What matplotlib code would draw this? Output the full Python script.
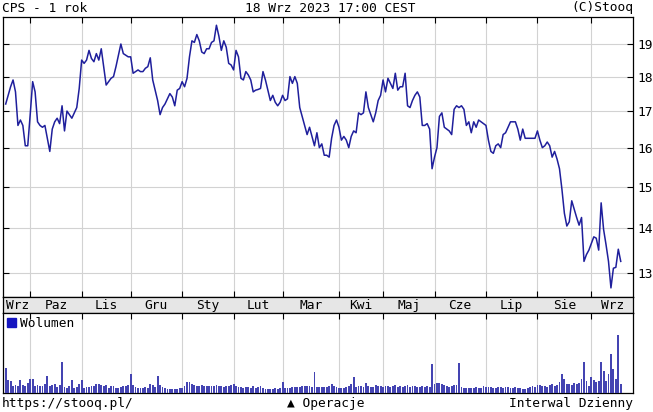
import matplotlib.pyplot as plt
from matplotlib.patches import Patch
from matplotlib.ticker import FixedLocator, NullLocator, FuncFormatter

# kursy zamkniecia CPS, sesje od 19.09.2022 do 18.09.2023
ceny = [17.2, 17.45, 17.7, 17.9, 17.55, 16.6, 16.75, 16.6, 16.05, 16.05,
        16.9, 17.85, 17.55, 16.7, 16.6, 16.55, 16.6, 16.25, 15.9, 16.5,
        16.7, 16.8, 16.65, 17.15, 16.45, 17.0, 16.9, 16.8, 16.95, 17.1,
        17.65, 18.5, 18.4, 18.5, 18.8, 18.55, 18.45, 18.7, 18.5, 18.85,
        18.3, 17.75, 17.85, 17.95, 18.0, 18.3, 18.65, 19.0, 18.7, 18.65,
        18.6, 18.6, 18.1, 18.15, 18.2, 18.15, 18.15, 18.25, 18.3, 18.57,
        17.9, 17.6, 17.3, 16.9, 17.1, 17.2, 17.35, 17.5, 17.4, 17.15,
        17.6, 17.65, 17.85, 17.7, 17.95, 18.6, 19.1, 19.05, 19.3, 19.1,
        18.75, 18.7, 18.85, 18.85, 19.05, 19.1, 19.6, 19.25, 18.8, 19.1,
        18.9, 18.4, 18.35, 18.2, 18.8, 18.6, 17.95, 17.9, 18.15, 18.05,
        17.9, 17.55, 17.6, 17.62, 17.65, 18.15, 17.9, 17.6, 17.3, 17.45,
        17.25, 17.15, 17.25, 17.45, 17.3, 17.35, 18.0, 17.8, 18.0, 17.8,
        17.1, 16.85, 16.6, 16.35, 16.55, 16.3, 16.05, 16.4, 16.0, 16.1,
        15.8, 15.8, 15.75, 16.25, 16.6, 16.75, 16.55, 16.2, 16.3, 16.2,
        16.0, 16.3, 16.45, 16.4, 16.95, 16.9, 16.95, 17.55, 17.1, 16.9,
        16.7, 16.95, 17.3, 17.45, 17.9, 17.55, 17.95, 17.8, 17.65, 18.1,
        17.6, 17.7, 17.7, 18.1, 17.15, 17.1, 17.3, 17.45, 17.55, 17.4,
        16.6, 16.6, 16.65, 16.5, 15.45, 15.75, 16.0, 16.85, 16.95, 16.55,
        16.5, 16.45, 16.35, 17.05, 17.15, 17.1, 17.15, 17.05, 16.6, 16.7,
        16.4, 16.7, 16.55, 16.75, 16.7, 16.65, 16.6, 16.2, 15.9, 15.85,
        16.05, 16.1, 16.0, 16.35, 16.4, 16.55, 16.7, 16.7, 16.7, 16.5,
        16.2, 16.5, 16.25, 16.25, 16.25, 16.25, 16.25, 16.45, 16.2, 16.0,
        16.05, 16.15, 16.05, 15.75, 15.9, 15.7, 15.45, 14.93, 14.35, 14.05,
        14.15, 14.65, 14.45, 14.25, 14.07, 14.25, 13.25, 13.4, 13.5, 13.65,
        13.8, 13.77, 13.5, 14.6, 13.97, 13.62, 13.25, 12.68, 13.1, 13.12,
        13.52, 13.25]

# wolumen (jednostki umowne)
wolumen = [25, 12.7, 12, 7, 8, 7, 12.7, 8, 7, 10,
           14, 14, 7, 8, 7, 7, 9, 17, 7, 8,
           9, 6, 8, 31, 6, 5, 7, 12.7, 5, 6,
           9, 13, 5, 6, 6, 7, 7, 9, 9, 8,
           7, 8, 5, 7, 7, 5, 5, 6, 7, 7,
           8, 19, 8, 6, 5, 5, 5, 6, 5, 9,
           8, 6, 17, 8, 6, 5, 4, 4, 4, 4,
           4, 5, 5, 7, 11, 11, 9, 8, 7, 7,
           8, 7, 7, 7, 7, 7, 8, 7, 7, 6,
           7, 7, 8, 9, 7, 6, 6, 5, 6, 6,
           5, 7, 5, 6, 7, 5, 4, 4, 4, 4,
           5, 4, 5, 11, 5, 5, 5, 6, 6, 6,
           6, 7, 7, 7, 7, 6, 21, 6, 6, 6,
           6, 6, 7, 9, 7, 6, 5, 5, 5, 6,
           7, 9, 16, 6, 7, 7, 6, 10, 7, 6,
           6, 8, 7, 7, 6, 7, 7, 6, 7, 8,
           6, 7, 6, 7, 8, 6, 7, 7, 6, 6,
           7, 6, 7, 6, 28.7, 9, 10, 10, 9, 8,
           7, 6, 7, 8, 8, 30, 6, 5, 5, 5,
           5, 5, 6, 5, 5, 7, 6, 6, 6, 5,
           5, 6, 6, 5, 6, 6, 5, 5, 6, 5,
           5, 4, 4, 5, 6, 7, 6, 8, 8, 7,
           7, 6, 8, 9, 7, 8, 11, 18.7, 14.3, 9,
           9, 8, 10, 9, 10, 14, 31, 12, 7, 16,
           13, 11, 12, 31, 21.7, 12, 18.7, 39, 24.3, 14.3,
           58.3, 9.3]

miesiace = ['Wrz', 'Paz', 'Lis', 'Gru', 'Sty', 'Lut', 'Mar',
            'Kwi', 'Maj', 'Cze', 'Lip', 'Sie', 'Wrz']
# numer pierwszej sesji kazdego miesiaca (od pazdziernika)
poczatki_miesiecy = [10, 31, 51, 72, 93, 113, 136, 154, 175, 196, 217, 239]
poziomy_cen = [13, 14, 15, 16, 17, 18, 19]

plt.rcParams['font.family'] = 'DejaVu Sans Mono'
plt.rcParams['font.size'] = 9.3

W, H = 653, 412
fig = plt.figure(figsize=(W / 100, H / 100), dpi=100)
ax = fig.add_axes([3 / W, 1 - 297 / H, 630 / W, 280 / H])
pasek = fig.add_axes([3 / W, 1 - 313 / H, 630 / W, 16 / H])
ax_vol = fig.add_axes([3 / W, 1 - 393 / H, 630 / W, 80 / H])

x_min, x_max = -1.1, 256.0
dni = list(range(len(ceny)))
siatka = '#d2d2d2'

# wykres kursu (skala logarytmiczna)
ax.plot(dni, ceny, color='#1f1f9c', linewidth=1.1, zorder=3)
ax.set_yscale('log')
ax.set_ylim(12.49, 19.87)
ax.set_xlim(x_min, x_max)
ax.yaxis.set_major_locator(FixedLocator(poziomy_cen))
ax.yaxis.set_minor_locator(NullLocator())
ax.yaxis.set_major_formatter(FuncFormatter(lambda v, p: '%d' % v))
ax.set_xticks(poczatki_miesiecy)
ax.set_xticklabels([])
ax.tick_params(axis='x', direction='in', length=4, top=True, bottom=True)
ax.tick_params(axis='y', direction='in', length=4, left=True, right=True,
               labelleft=False, labelright=True, pad=3)
ax.grid(True, color=siatka, linewidth=0.8, zorder=0)

# pasek z nazwami miesiecy
pasek.set_facecolor('#e6e6e6')
pasek.set_xlim(x_min, x_max)
pasek.set_ylim(0, 1)
pasek.set_xticks([])
pasek.set_yticks([])
granice = [0] + poczatki_miesiecy + [x_max]
for i, nazwa in enumerate(miesiace):
    srodek = (granice[i] + granice[i + 1]) / 2
    pasek.text(srodek, 0.45, nazwa, ha='center', va='center')

# wolumen
ax_vol.bar(dni, wolumen, width=0.75, color='#4444b2', zorder=3)
ax_vol.set_xlim(x_min, x_max)
ax_vol.set_ylim(0, 80)
ax_vol.set_yticks([])
ax_vol.set_xticks(poczatki_miesiecy)
ax_vol.set_xticklabels([])
ax_vol.tick_params(axis='x', direction='in', length=4, top=True, bottom=False)
ax_vol.grid(True, axis='x', color=siatka, linewidth=0.8, zorder=0)
ax_vol.legend(handles=[Patch(color='#1515c0', label='Wolumen')],
              loc='upper left', frameon=False, handlelength=0.7,
              handleheight=0.7, handletextpad=0.3, borderaxespad=0.1,
              borderpad=0.2)

for a in (ax, pasek, ax_vol):
    for s in a.spines.values():
        s.set_color('black')
        s.set_linewidth(0.9)

# napisy naglowka i stopki
fig.text(2 / W, 1 - 8 / H, 'CPS - 1 rok', ha='left', va='center')
fig.text(330 / W, 1 - 8 / H, '18 Wrz 2023 17:00 CEST', ha='center', va='center')
fig.text(633 / W, 1 - 8 / H, '(C)Stooq', ha='right', va='center')
fig.text(2 / W, 1 - 403 / H, 'https://stooq.pl/', ha='left', va='center')
fig.text(326 / W, 1 - 403 / H, '▲ Operacje', ha='center', va='center')
fig.text(633 / W, 1 - 403 / H, 'Interwal Dzienny', ha='right', va='center')

fig.savefig('out.png', dpi=100, facecolor='white')
